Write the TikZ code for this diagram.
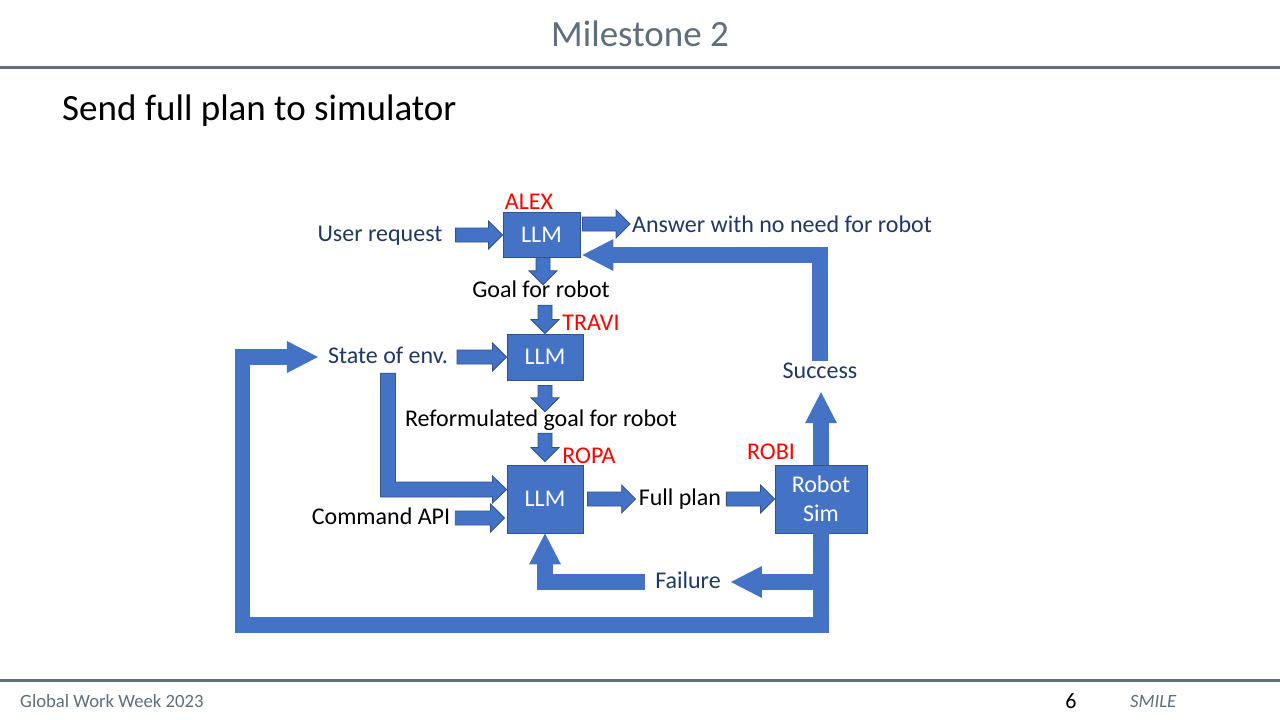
\documentclass[tikz,border=0pt]{standalone}
\usepackage{fontspec}
\setmainfont{Carlito}
\usetikzlibrary{arrows.meta,calc}
\definecolor{llmblue}{HTML}{4472C4}
\definecolor{llmedge}{HTML}{2F528F}
\definecolor{navy}{HTML}{203864}
\definecolor{slate}{HTML}{5F6E7D}

\begin{document}
\begin{tikzpicture}
[x=1pt,y=-1pt,
llmbox/.style={rectangle, draw=llmedge, fill=llmblue, line width=0.9pt, text=white, font=\fontsize{24}{29}\selectfont, inner sep=0pt, align=center},
lbl/.style={inner sep=0pt, text height=17pt, text depth=5pt, anchor=base, font=\fontsize{24}{29}\selectfont},
who/.style={lbl, text=red},
foot/.style={inner sep=0pt, anchor=base west, text=slate, font=\fontsize{18.7}{22}\selectfont},
blk/.style={draw=llmedge, fill=llmblue, line width=0.8pt},
bigline/.style={draw=llmblue, line width=15.5pt, -{Triangle[length=31pt,width=32pt,line width=0pt]}},
rblock/.style={to path={let \p1=(\tikztostart), \p2=(\tikztotarget) in
  (\x1,\y1+7pt) -- (\x2-14pt,\y1+7pt) -- (\x2-14pt,\y1+14pt) -- (\x2,\y1) -- (\x2-14pt,\y1-14pt) -- (\x2-14pt,\y1-7pt) -- (\x1,\y1-7pt) -- cycle}},
dblock/.style={to path={let \p1=(\tikztostart), \p2=(\tikztotarget) in
  (\x1-7pt,\y1) -- (\x1-7pt,\y2+14pt) -- (\x1-14pt,\y2+14pt) -- (\x1,\y2) -- (\x1+14pt,\y2+14pt) -- (\x1+7pt,\y2+14pt) -- (\x1+7pt,\y1) -- cycle}},
]
\useasboundingbox (0,0) rectangle (1280,720);
\fill[white] (0,0) rectangle (1280,720);

% slide frame
\node at (640,46) [inner sep=0pt, anchor=base, text=slate, font=\fontsize{37}{44}\selectfont] (title) {Milestone 2};
\draw[slate, line width=3pt] (0,67.5) -- (1280,67.5);
\node at (62,120) [inner sep=0pt, anchor=base west, font=\fontsize{37}{44}\selectfont] (sub) {Send full plan to simulator};
\draw[slate, line width=3pt] (0,680.5) -- (1280,680.5);
\node at (20,707) [foot] (week) {Global Work Week 2023};
\node at (1071,708) [inner sep=0pt, anchor=base, font=\fontsize{22}{26}\selectfont] (page) {6};
\node at (1130,707) [foot, font=\fontsize{18.7}{22}\selectfont\itshape] (smile) {SMILE};

% boxes
\node at (541.5,234.5) [llmbox, minimum width=77pt, minimum height=45pt] (alex) {LLM};
\node at (545,357) [llmbox, minimum width=76pt, minimum height=46pt] (travi) {LLM};
\node at (545,499) [llmbox, minimum width=76pt, minimum height=68pt] (ropa) {LLM};
\node at (821,499) [llmbox, minimum width=92pt, minimum height=68pt] (sim) {Robot\\Sim};

\node at (529,209) [who] (alexname) {ALEX};
\node at (591,330) [who] (traviname) {TRAVI};
\node at (589,463) [who] (ropaname) {ROPA};
\node at (771,459) [who] (robiname) {ROBI};

% texts
\node at (380,241) [lbl, text=navy] (user) {User request};
\node at (632,232) [lbl, text=navy, anchor=base west] (answer) {Answer with no need for robot};
\node at (541,297) [lbl] (goal) {Goal for robot};
\node at (388,363) [lbl, text=navy] (state) {State of env.};
\node at (541,426) [lbl] (reform) {Reformulated goal for robot};
\node at (381,524) [lbl] (command) {Command API};
\node at (680,505) [lbl] (fullplan) {Full plan};
\node at (820,378) [lbl, text=navy] (success) {Success};
\node at (688,588) [lbl, text=navy] (failure) {Failure};

% thick feedback lines
\coordinate (loopbl) at (242.5,625);
\coordinate (sucin) at ([yshift=-9pt]success.south);
\draw[bigline] (success.north) |- ([shift={(2pt,-20.5pt)}]alex.east);
\draw[bigline] (sim.north) -- (sim.north |- sucin);
\draw[bigline] (sim.south) |- (loopbl) |- ([xshift=-10pt]state.west);
\draw[bigline] (sim.south) |- ([xshift=10pt]failure.east);
\draw[bigline] ([xshift=-10pt]failure.west) -| (ropa.south);

% block arrows
\draw[blk] ([xshift=13pt]user.east) to[rblock] (alex.west);
\draw[blk] ([shift={(2pt,2pt)}]alex.east |- answer.west) to[rblock] ([xshift=-2pt]answer.west);
\draw[blk] ([xshift=1.5pt]alex.south) to[dblock] ([yshift=-5pt]goal.north);
\draw[blk] ([yshift=-3pt]goal.south -| travi.north) to[dblock] (travi.north);
\draw[blk] ([yshift=-5pt]travi.south) to[dblock] ([yshift=-3pt]reform.north);
\draw[blk] ([yshift=-2pt]reform.south -| ropa.north) to[dblock] ([yshift=3pt]ropa.north);
\draw[blk] ([xshift=9pt]state.east) to[rblock] (travi.west);
\draw[blk] ([xshift=5pt]command.east) to[rblock] ([xshift=-2pt]ropa.west);
\draw[blk] ([xshift=4pt]ropa.east |- fullplan.east) to[rblock] ([xshift=-3pt]fullplan.west);
\draw[blk] ([xshift=5pt]fullplan.east) to[rblock] (sim.west);

% bent arrow from state to ropa
\coordinate (sb) at ([yshift=-5pt]state.south);
\coordinate (st) at ([yshift=9.5pt]ropa.west);
\draw[blk] ([xshift=-7.5pt]sb) |- ([shift={(-14,7.5)}]st) -- ++(0,6) -- (st) -- ++(-14,-13.5) -- ++(0,6) -| ([xshift=7.5pt]sb) -- cycle;
\end{tikzpicture}
\end{document}
